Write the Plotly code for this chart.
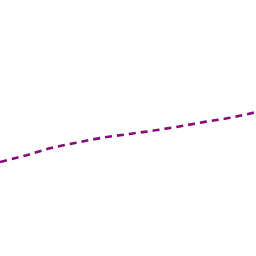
import plotly.graph_objects as go

x_vals = [0, 1, 2, 3, 4, 5, 6, 7, 8, 9, 10]
y_vals = [3.67, 3.93, 4.22, 4.43, 4.62, 4.76, 4.90, 5.06, 5.24, 5.40, 5.62]

fig = go.Figure(go.Scatter(x=x_vals, y=y_vals, mode="lines",
                           line=dict(color="#850a7a", width=2.6, dash="7px,5px"),
                           line_shape="spline"))
fig.update_layout(width=256, height=256, margin=dict(l=0, r=0, t=0, b=0),
                  paper_bgcolor="white", plot_bgcolor="white", showlegend=False,
                  xaxis=dict(visible=False, range=[0, 10]),
                  yaxis=dict(visible=False, range=[0, 10]))
fig.write_html("out.html")
